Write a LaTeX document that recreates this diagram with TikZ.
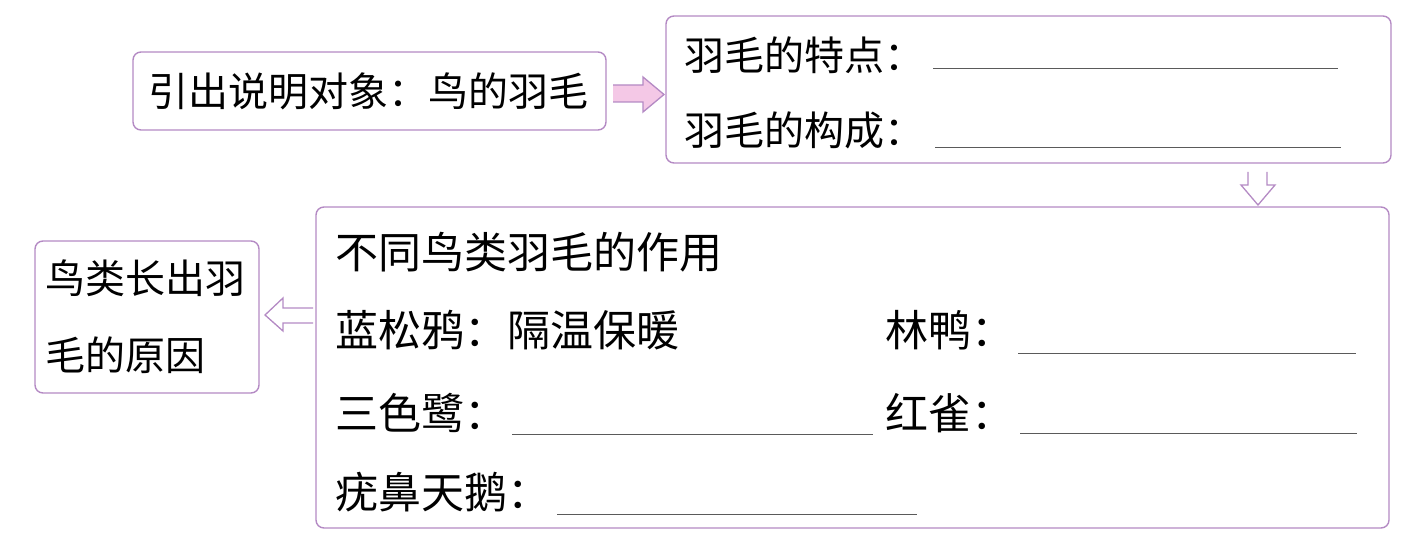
\documentclass[tikz,border=0pt]{standalone}
\usepackage{fontspec}
\setmainfont{Noto Sans CJK SC}
\usetikzlibrary{calc}
\definecolor{boxline}{HTML}{B48AC4}
\definecolor{arrowfill}{HTML}{F4C8E6}
\definecolor{blankline}{HTML}{5A5A5A}
\tikzset{
  box/.style={draw=boxline, line width=1.4pt, rounded corners=8pt, fill=white},
  txt/.style={anchor=west, inner sep=0pt, font=\fontsize{40}{46}\selectfont, text=black},
  txtc/.style={anchor=west, inner sep=0pt, font=\fontsize{43}{50}\selectfont, text=black},
  blank/.style={draw=blankline, line width=1pt},
  fatarrow/.style={draw=boxline, line width=1.3pt, line join=miter},
}
\begin{document}
\begin{tikzpicture}[x=1pt,y=-1pt]
\useasboundingbox (0,0) rectangle (1418,540);
% boxes
\draw[box] (133,52) rectangle (606,130);
\draw[box] (666,16) rectangle (1391,163);
\draw[box] (316,207) rectangle (1389,528);
\draw[box] (35,241) rectangle (259,393);
\node (A) at (369.5,91) {};
\node (B) at (1028.5,89.5) {};
\node (C) at (852.5,367.5) {};
\node (D) at (147,317) {};
% texts
\node[txt] (ta) at (148,91) {引出说明对象：鸟的羽毛};
\node[txt] (tb1) at (684,55) {羽毛的特点：};
\node[txt] (tb2) at (684,130) {羽毛的构成：};
\coordinate (b1s) at (933,69); \coordinate (b1e) at (1338,69);
\coordinate (b2s) at (935,148); \coordinate (b2e) at (1341,148);
\draw[blank] (b1s) -- (b1e);
\draw[blank] (b2s) -- (b2e);
\node[txtc] (tc0) at (335,252) {不同鸟类羽毛的作用};
\node[txtc] (tc1) at (335,330) {蓝松鸦：隔温保暖};
\node[txtc] (tc2) at (885,330) {林鸭：};
\node[txtc] (tc3) at (335,413) {三色鹭：};
\node[txtc] (tc4) at (885,413) {红雀：};
\node[txtc] (tc5) at (335,492) {疣鼻天鹅：};
\coordinate (c2s) at (1018,353); \coordinate (c2e) at (1356,353);
\coordinate (c3s) at (512,434); \coordinate (c3e) at (873,434);
\coordinate (c4s) at (1020,433); \coordinate (c4e) at (1357,433);
\coordinate (c5s) at (557,514); \coordinate (c5e) at (917,514);
\draw[blank] (c2s) -- (c2e);
\draw[blank] (c3s) -- (c3e);
\draw[blank] (c4s) -- (c4e);
\draw[blank] (c5s) -- (c5e);
\node[txt] (td1) at (45,278) {鸟类长出羽};
\node[txt] (td2) at (45,355) {毛的原因};
% arrows
% right arrow A -> B
\fill[arrowfill] (613,85) -- (643,85) -- (643,77) -- (664,94.5) -- (643,112) -- (643,102) -- (613,102) -- cycle;
\draw[fatarrow] (613,85) -- (643,85) -- (643,77) -- (664,94.5) -- (643,112) -- (643,102) -- (613,102);
% down arrow B -> C
\fill[white] (1248,172) -- (1248,185) -- (1242,185) -- (1257,205) -- (1276,185) -- (1266,185) -- (1266,172) -- cycle;
\draw[fatarrow] (1248,172) -- (1248,185) -- (1241,185) -- (1258,205) -- (1275,185) -- (1267,185) -- (1267,172);
% left arrow C -> D
\draw[fatarrow] (313,308) -- (283,308) -- (283,298) -- (265,315) -- (283,331) -- (283,323) -- (313,323);
\end{tikzpicture}
\end{document}
